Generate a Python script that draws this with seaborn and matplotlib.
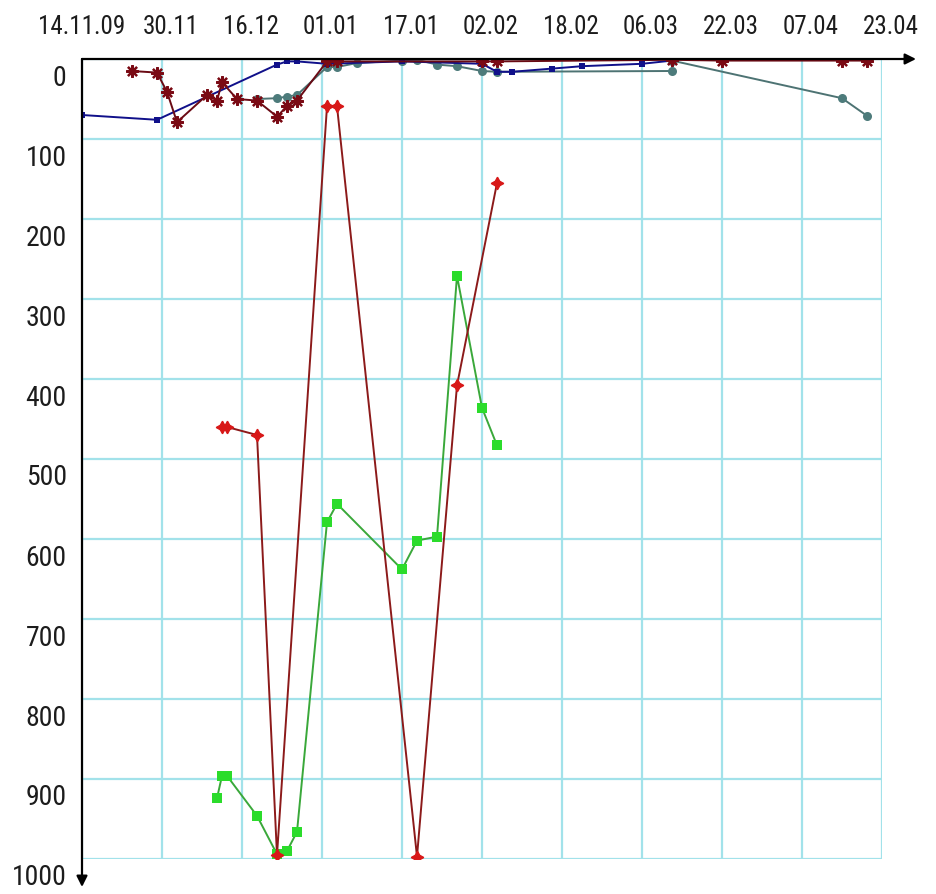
import matplotlib
matplotlib.use("Agg")
import matplotlib.pyplot as plt
import matplotlib.transforms as mtransforms
import pandas as pd
import seaborn as sns

sns.set_theme(style="white")
plt.rcParams["font.family"] = ["Roboto Condensed", "Liberation Sans", "DejaVu Sans"]

# axis ticks
tick_dates = ["2009-11-14", "2009-11-30", "2009-12-16", "2010-01-01", "2010-01-17",
              "2010-02-02", "2010-02-18", "2010-03-06", "2010-03-22", "2010-04-07",
              "2010-04-23"]
tick_labels = ["14.11.09", "30.11", "16.12", "01.01", "17.01", "02.02", "18.02",
               "06.03", "22.03", "07.04", "23.04"]
y_ticks = [0, 100, 200, 300, 400, 500, 600, 700, 800, 900, 1000]

# series
blue_dates = ["2009-11-14", "2009-11-29", "2009-12-23", "2009-12-25", "2009-12-27",
              "2010-01-02", "2010-01-17", "2010-02-02", "2010-02-05", "2010-02-08",
              "2010-02-16", "2010-02-22", "2010-03-06", "2010-03-12"]
blue_values = [70, 76, 7, 3, 3, 6, 3, 6, 16, 16, 12, 9, 6, 2]

grey_dates = ["2009-12-19", "2009-12-23", "2009-12-25", "2009-12-27", "2010-01-02",
              "2010-01-04", "2010-01-08", "2010-01-17", "2010-01-20", "2010-01-24",
              "2010-01-28", "2010-02-02", "2010-02-05", "2010-03-12", "2010-03-12",
              "2010-04-15", "2010-04-20"]
grey_values = [50, 49, 47, 45, 10, 10, 5, 2, 1, 7, 9, 15, 16, 15, 2, 49, 71]

maroon_dates = ["2009-11-24", "2009-11-29", "2009-12-01", "2009-12-03", "2009-12-09",
                "2009-12-11", "2009-12-12", "2009-12-15", "2009-12-19", "2009-12-23",
                "2009-12-25", "2009-12-27", "2010-01-02", "2010-01-04", "2010-02-02",
                "2010-02-05", "2010-03-12", "2010-03-22", "2010-04-15", "2010-04-20"]
maroon_values = [15, 17, 41, 79, 45, 52, 29, 50, 52, 72, 59, 52, 3, 3, 3, 3, 1, 2, 2, 2]

red_dates = ["2009-12-12", "2009-12-13", "2009-12-19", "2009-12-23", "2010-01-02",
             "2010-01-04", "2010-01-20", "2010-01-28", "2010-02-05"]
red_values = [460, 460, 470, 995, 59, 59, 997, 408, 155]

green_dates = ["2009-12-11", "2009-12-12", "2009-12-13", "2009-12-19", "2009-12-23",
               "2009-12-25", "2009-12-27", "2010-01-02", "2010-01-04", "2010-01-17",
               "2010-01-20", "2010-01-24", "2010-01-28", "2010-02-02", "2010-02-05"]
green_values = [924, 896, 896, 946, 994, 990, 966, 579, 556, 638, 602, 597, 271, 436, 483]

W, H = 937, 895
fig = plt.figure(figsize=(W / 100, H / 100), dpi=100)
ax = fig.add_axes([82 / W, 1 - 860 / H, 800 / W, 800 / H])

grid_color = "#a2e2ea"


def draw(dates, values, color, line_color, marker, ms, mew=0.0, lw=1.4, z=3):
    df = pd.DataFrame({"date": pd.to_datetime(dates), "value": values})
    sns.lineplot(data=df, x="date", y="value", ax=ax, sort=False, estimator=None,
                 color=line_color, lw=lw, marker=marker, markersize=ms,
                 markerfacecolor=color, markeredgecolor=color, markeredgewidth=mew,
                 zorder=z, legend=False)


draw(green_dates, green_values, "#2bdc2b", "#3aa83a", "s", 7.5, z=3)
draw(red_dates, red_values, "#d81818", "#8c1a1a", (4, 1, 0), 9, mew=1.0, z=4)
draw(grey_dates, grey_values, "#4d7b7b", "#4d7373", "o", 6.5, z=5)
draw(blue_dates, blue_values, "#10108a", "#10108a", "s", 4, z=6)
draw(maroon_dates, maroon_values, "#7a0a14", "#6a0a14", (8, 2, 0), 9, mew=1.6, z=7)

x0 = pd.Timestamp(tick_dates[0])
x1 = pd.Timestamp(tick_dates[-1])
ax.set_xlim(x0, x1)
ax.set_ylim(1000, 0)

ax.set_xticks(pd.to_datetime(tick_dates))
ax.set_xticklabels(tick_labels)
ax.set_yticks(y_ticks)
ax.set_yticklabels([str(v) for v in y_ticks])
ax.xaxis.tick_top()
ax.tick_params(axis="both", length=0, colors="#1c1c1c")
ax.tick_params(axis="x", pad=15, labelsize=18)
ax.tick_params(axis="y", pad=11, labelsize=20)

for i, lab in enumerate(ax.get_xticklabels()):
    dx = 0 if i == 0 else 9 / 100
    lab.set_transform(lab.get_transform() + mtransforms.ScaledTranslation(dx, 0, fig.dpi_scale_trans))
for lab in ax.get_yticklabels():
    lab.set_transform(lab.get_transform() + mtransforms.ScaledTranslation(0, -15 / 100, fig.dpi_scale_trans))

ax.grid(True, color=grid_color, lw=1.6)
ax.set_axisbelow(True)
for s in ax.spines.values():
    s.set_visible(False)
ax.set_xlabel("")
ax.set_ylabel("")

# axis arrows
arrow = dict(arrowstyle="-|>", color="black", lw=1.6, mutation_scale=16, shrinkA=0, shrinkB=0)
ax.annotate("", xy=(916, H - 60), xytext=(82, H - 60), xycoords="figure pixels",
            textcoords="figure pixels", arrowprops=arrow, zorder=10, annotation_clip=False)
ax.annotate("", xy=(82, H - 888), xytext=(82, H - 60), xycoords="figure pixels",
            textcoords="figure pixels", arrowprops=arrow, zorder=10, annotation_clip=False)

fig.savefig("out.png", dpi=100, facecolor="white")
